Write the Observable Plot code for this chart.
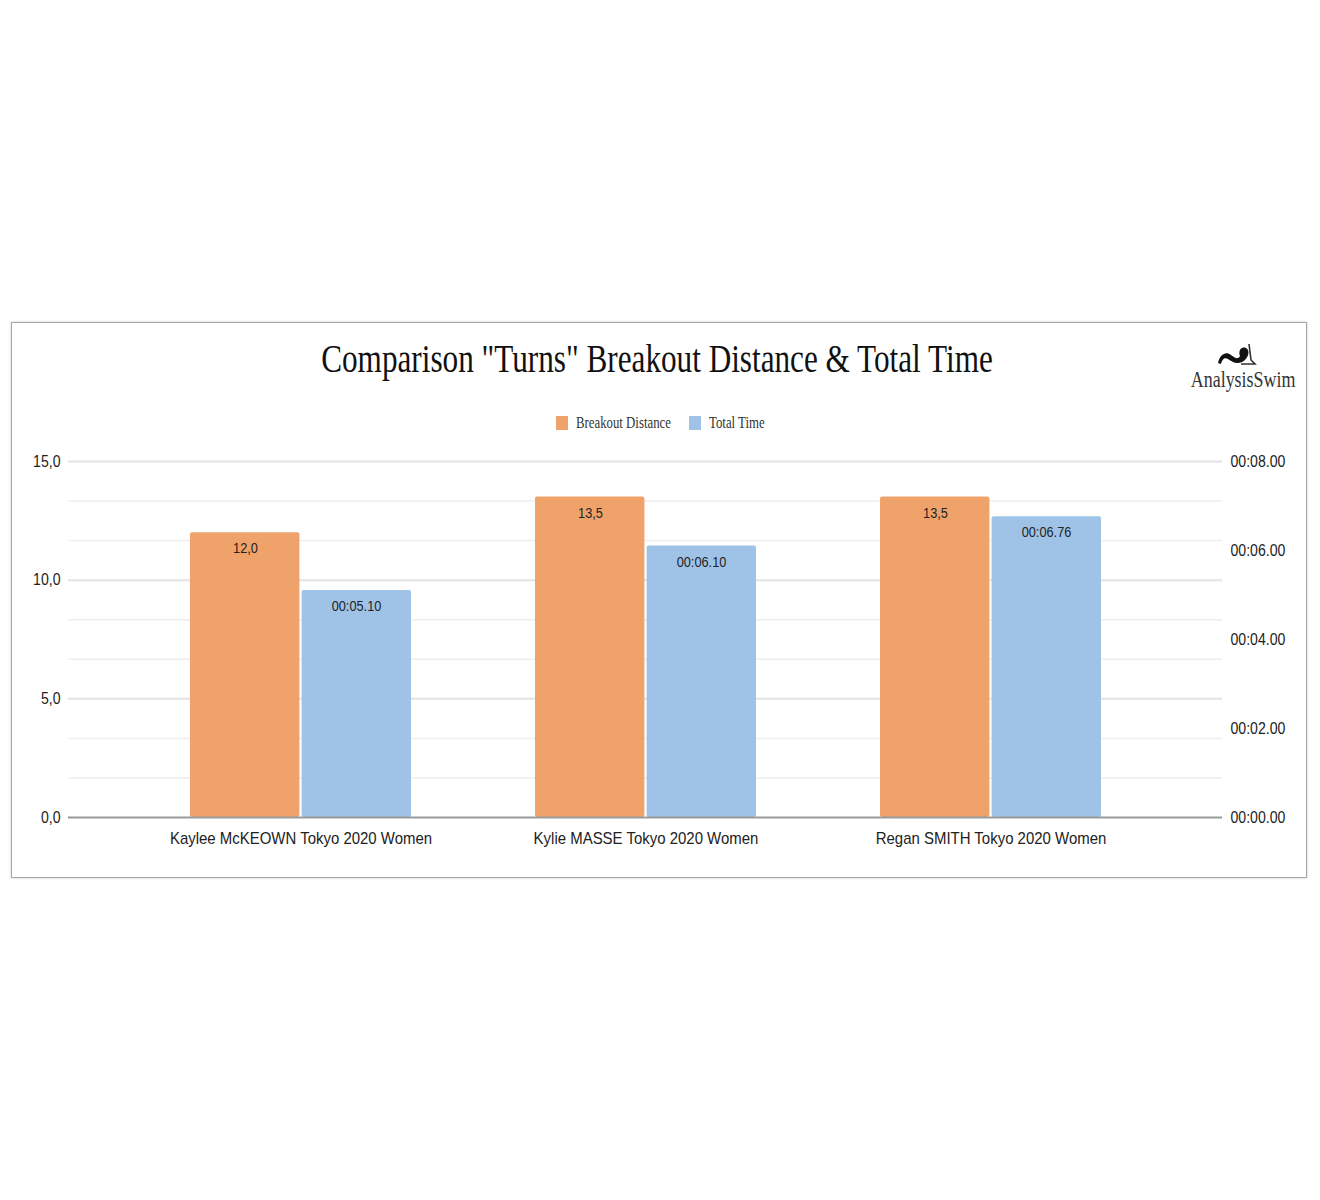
<!DOCTYPE html>
<html><head><meta charset="utf-8">
<script src="https://cdn.jsdelivr.net/npm/d3@7"></script>
<script src="https://cdn.jsdelivr.net/npm/@observablehq/plot@0.6"></script>
<style>
body{margin:0;background:#fff;width:1320px;height:1200px;position:relative;overflow:hidden;font-family:"Liberation Sans",sans-serif;}
#frame{position:absolute;left:11px;top:322px;width:1294px;height:554px;border:1px solid #a8a8a8;box-shadow:0 0 2px rgba(0,0,0,.25);}
#title{position:absolute;left:-3px;width:1320px;top:335px;text-align:center;font-family:"Liberation Serif",serif;font-size:40px;color:#111;transform:scaleX(.78);white-space:nowrap;}
#logo{position:absolute;left:1176px;top:343px;width:122px;text-align:center;font-family:"Liberation Serif",serif;font-size:23px;color:#333;line-height:22px}
#logo .name{display:inline-block;transform:scaleX(.78);white-space:nowrap;}
#legend{position:absolute;left:0;width:1320px;top:414px;display:flex;justify-content:center;align-items:center;font-family:"Liberation Serif",serif;font-size:16px;color:#333;}
#legend .sw{width:12px;height:14px;display:inline-block;margin-right:8px}
#legend .it{display:flex;align-items:center;margin:0 9px}
#legend .lb{display:inline-block;transform:scaleX(.8);transform-origin:left center;white-space:nowrap}
#chart{position:absolute;left:0;top:440px}
</style></head>
<body>
<div id="frame"></div>
<div id="title"></div>
<div id="logo"><svg width="42" height="26" viewBox="0 0 42 26" style="display:block;margin:0 auto 0 40px"><path d="M2 20 C4 11 10 8 15 12 C19 15 22 17 24 13 C22 8 25 3 30 5 C35 8 32 16 26 19 C20 22 15 18 12 16 C8 14 6 17 5 21 Z" fill="#111"/><path d="M33 1 L35 17 L39 21 L25 21" stroke="#333" stroke-width="1.6" fill="none"/></svg><span class="name">AnalysisSwim</span></div>
<div id="legend"></div>
<div id="chart"></div>
<script>
const titleText = 'Comparison "Turns" Breakout Distance & Total Time';
const athletes = ["Kaylee McKEOWN Tokyo 2020 Women","Kylie MASSE Tokyo 2020 Women","Regan SMITH Tokyo 2020 Women"];
const breakoutDistance = [12.0, 13.5, 13.5];
const totalTimeSec = [5.10, 6.10, 6.76];
const seriesNames = ["Breakout Distance","Total Time"];
const seriesColors = ["#efa36b","#9fc3e6"];
const leftTicks = [0, 5, 10, 15];
const minorGrid = [5/3, 10/3, 20/3, 25/3, 35/3, 40/3];
const timeTicks = [0, 2, 4, 6, 8];
const leftMax = 15, rightMax = 8;

document.getElementById("title").textContent = titleText;
const leg = document.getElementById("legend");
seriesNames.forEach((n,i)=>{
  const it = document.createElement("span"); it.className="it";
  const sw = document.createElement("span"); sw.className="sw"; sw.style.background=seriesColors[i];
  const lb = document.createElement("span"); lb.className="lb"; lb.textContent=n;
  it.appendChild(sw); it.appendChild(lb); leg.appendChild(it);
});
leg.querySelectorAll(".lb").forEach(lb=>{
  const w = lb.offsetWidth, r = lb.getBoundingClientRect().width;
  lb.style.marginRight = (r - w) + "px";
});

const rows = athletes.map((a,i)=>({athlete:a, distance:breakoutDistance[i], time:totalTimeSec[i]}));
const toLeft = s => s*leftMax/rightMax;
const fmtLeft = v => d3.format(".1f")(v).replace(".", ",");
const fmtTime = s => { const r = Math.round(s*100)/100; const w = Math.floor(r); return "00:" + String(w).padStart(2,"0") + "." + String(Math.round((r-w)*100)).padStart(2,"0"); };

const font = '"Liberation Sans",sans-serif';
const chart = Plot.plot({
  width:1320, height:417, marginTop:21, marginBottom:40, marginLeft:68, marginRight:98,
  style:{fontFamily:font, fontSize:"15px", color:"#222", background:"transparent"},
  x:{domain:athletes, paddingInner:0.36, paddingOuter:0.35},
  y:{domain:[0,leftMax]},
  marks:[
    Plot.ruleY(minorGrid,{stroke:"#eeeeee", strokeWidth:1.5}),
    Plot.ruleY(leftTicks.slice(1),{stroke:"#e3e3e3", strokeWidth:2}),
    Plot.barY(rows,{x:"athlete", y:"distance", fill:seriesColors[0], insetRight:111.6, rx:2}),
    Plot.barY(rows,{x:"athlete", y:d=>toLeft(d.time), fill:seriesColors[1], insetLeft:111.6, rx:2}),
    Plot.ruleY([0],{stroke:"#9a9a9a", strokeWidth:2}),
    Plot.axisY({anchor:"left", ticks:leftTicks, tickFormat:fmtLeft, tickSize:0, tickPadding:8, label:null, fontSize:16}),
    Plot.axisY({anchor:"right", ticks:timeTicks.map(toLeft), tickFormat:v=>fmtTime(v*rightMax/leftMax), tickSize:0, tickPadding:8, label:null, fontSize:16}),
    Plot.axisX({tickSize:0, tickPadding:14, label:null, fontSize:17}),
    Plot.text(rows,{x:"athlete", y:"distance", text:d=>fmtLeft(d.distance), dx:-55.5, dy:16, fill:"#222", fontSize:14.5}),
    Plot.text(rows,{x:"athlete", y:d=>toLeft(d.time), text:d=>fmtTime(d.time), dx:55.5, dy:16, fill:"#222", fontSize:14.5})
  ]
});
document.getElementById("chart").appendChild(chart);
// condense chart text (reference uses a narrow face)
d3.select(chart).selectAll("text").each(function(){
  const L = this.getComputedTextLength();
  if (L > 0) {
    this.setAttribute("textLength", (L*0.88).toFixed(2));
    this.setAttribute("lengthAdjust", "spacingAndGlyphs");
  }
});
</script>
</body></html>
